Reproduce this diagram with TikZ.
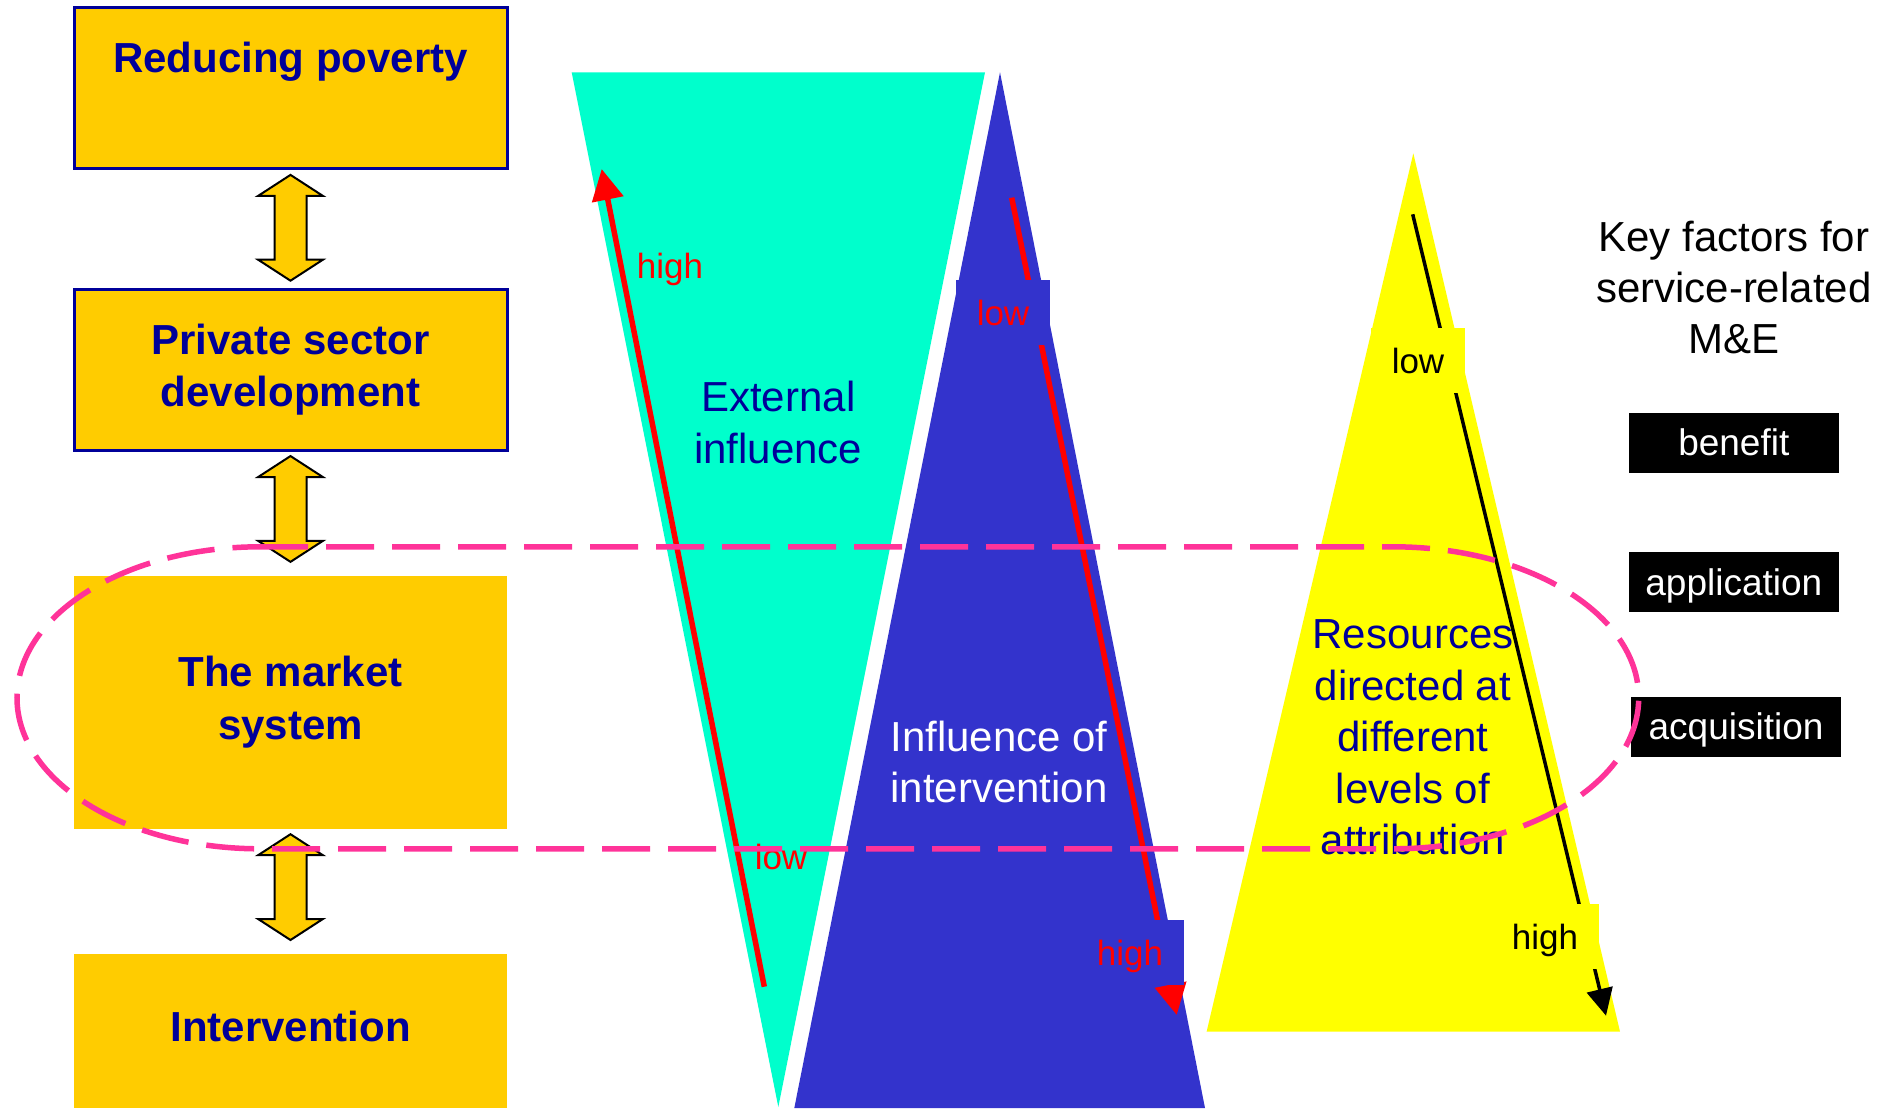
\documentclass[tikz,border=0pt]{standalone}
\usepackage{fontspec}
\setmainfont{Liberation Sans}
\usetikzlibrary{arrows.meta,calc}

\definecolor{boxgold}{HTML}{FFCC00}
\definecolor{navytext}{HTML}{000099}
\definecolor{tealfill}{HTML}{00FFCC}
\definecolor{bluefill}{HTML}{3333CC}
\definecolor{yellowfill}{HTML}{FFFF00}
\definecolor{loopink}{HTML}{FF3399}
\definecolor{arrowred}{HTML}{FF0000}

% centred stack of lines with a fixed baseline distance
\newcommand{\txtrows}[1]{\begin{tabular}{@{}c@{}}#1\end{tabular}}

\tikzset{
  levelbox/.style={fill=boxgold, minimum width=433pt, inner sep=0pt, text=navytext,
    font=\fontsize{42}{52.4}\selectfont\bfseries},
  framed/.style={draw=navytext, line width=3pt},
  bigtext/.style={inner sep=0pt, font=\fontsize{42}{51.5}\selectfont},
  tagtext/.style={inner sep=0pt, font=\fontsize{35}{42}\selectfont},
  scaletag/.style={inner xsep=21pt, inner ysep=0pt, minimum height=65pt,
    text height=25pt, text depth=0pt, font=\fontsize{35}{42}\selectfont},
  factorbox/.style={fill=black, text=white, minimum width=210pt, minimum height=60pt,
    inner sep=0pt, text height=26.6pt, text depth=0pt, font=\fontsize{37}{44}\selectfont},
  twoway/.pic={
    \filldraw[fill=boxgold, draw=black, line width=2pt, line join=miter]
      (0,-52.9) -- (32.4,-31.9) -- (16,-31.9) -- (16,31.9) -- (32.4,31.9) -- (0,52.9)
      -- (-32.4,31.9) -- (-16,31.9) -- (-16,-31.9) -- (-32.4,-31.9) -- cycle;
  },
  loopline/.style={draw=loopink, line width=5.5pt, dash pattern=on 48pt off 18pt},
  redscale/.style={draw=arrowred, line width=5.5pt, -{Triangle[length=31pt,width=31pt]}},
  blackscale/.style={draw=black, line width=3.5pt, -{Triangle[length=27pt,width=26pt]}},
}

\begin{document}
\begin{tikzpicture}[x=1pt,y=-1pt]
\useasboundingbox (0,0) rectangle (1894,1108);

% --- chain of levels on the left ---
\node[levelbox, framed, minimum height=160.5pt] (poverty) at (290.5,87.75)
  {\txtrows{Reducing poverty\\ \mbox{}}};
\node[levelbox, framed, minimum height=160.4pt] (psd) at (290.5,369.8)
  {\txtrows{Private sector\\development}};
\node[levelbox, minimum height=253pt] (market) at (290.5,702.5)
  {\txtrows{The market\\system}};
\node[levelbox, minimum height=154pt] (interv) at (290.5,1031)
  {\txtrows{Intervention}};

\pic at ($(poverty.south)!0.5!(psd.north)+(0,-1)$) {twoway};
\pic at ($(psd.south)!0.5!(market.north)+(0,-4.7)$) {twoway};
\pic at ($(market.south)!0.5!(interv.north)+(0,-4.4)$) {twoway};

% --- the three wedges ---
\fill[tealfill] (571.7,72.3) -- (985,72.3) -- (778.3,1107) -- cycle;
\fill[bluefill] (1000,72.3) -- (1205,1108) -- (794.3,1108) -- cycle;
\fill[yellowfill] (1413.3,153.3) -- (1620,1031.7) -- (1206.6,1031.7) -- cycle;

% --- scale arrows inside the wedges ---
\coordinate (extLow) at (764.3,986.7);
\coordinate (extHigh) at (601.7,169);
\coordinate (intLow) at (1011.7,197.7);
\coordinate (intHigh) at (1176.7,1015);
\coordinate (resLow) at (1412.7,214.3);
\coordinate (resHigh) at (1606,1015.7);

\draw[redscale] (extLow) -- (extHigh);
\draw[redscale] (intLow) -- (intHigh);
\draw[blackscale] (resLow) -- (resHigh);

\node[tagtext, text=arrowred, anchor=base] (extHighTag) at (670,278.3) {high};
\node[tagtext, text=arrowred, anchor=base] (extLowTag) at (781,869.3) {low};
\node[scaletag, fill=bluefill, text=arrowred] (intLowTag) at (1003,312.5) {low};
\node[scaletag, fill=bluefill, text=arrowred] (intHighTag) at (1130,952.5) {high};
\node[scaletag, fill=yellowfill, text=black] (resLowTag) at (1418,360.5) {low};
\node[scaletag, fill=yellowfill, text=black] (resHighTag) at (1545,936.5) {high};

% --- wedge captions ---
\node[bigtext, text=navytext] (external) at (778.3,427.2) {\txtrows{External\\influence}};
\node[bigtext, text=white] (influence) at (999,766.8) {\txtrows{Influence of\\intervention}};
\node[bigtext, text=navytext] (resources) at (1413,741.3)
  {\txtrows{Resources\\directed at\\different\\levels of\\attribution}};

% --- key factors column ---
\node[inner sep=0pt, font=\fontsize{42}{50.7}\selectfont] (keyhead) at (1733.7,292.3)
  {\txtrows{Key factors for\\service-related\\M\&E}};
\node[factorbox] (benefit) at (1733.8,442.5) {benefit};
\node[factorbox] (application) at (1733.8,582.3) {application};
\node[factorbox] (acquisition) at (1736,726.6) {acquisition};

% --- dashed loop round the market-system level ---
\draw[loopline] (260,546.8) -- (1393,546.8)
  arc[start angle=-90, end angle=90, x radius=245.7, y radius=151]
  -- (260,848.8)
  arc[start angle=90, end angle=270, x radius=243, y radius=151] -- cycle;
\end{tikzpicture}
\end{document}
